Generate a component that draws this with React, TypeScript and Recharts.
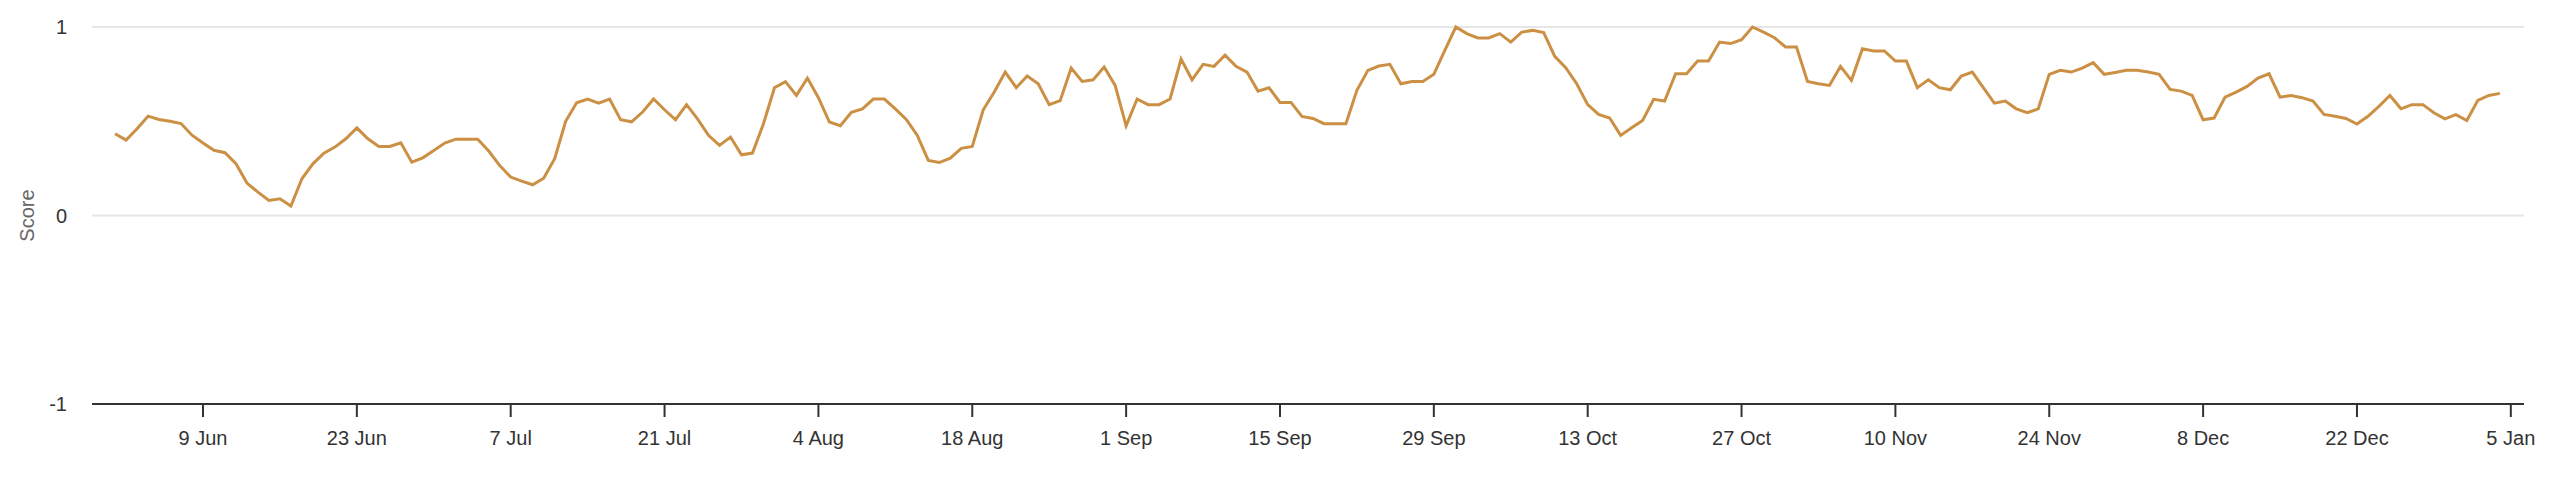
import { LineChart, Line, XAxis, YAxis, CartesianGrid } from "recharts";

// daily scores, day 0 = 1 Jun
const juneScores = [
  0.434, 0.4, 0.46, 0.527, 0.509, 0.5, 0.488, 0.426, 0.385, 0.346, 0.333, 0.275, 0.172, 0.124, 0.08,
  0.089, 0.05, 0.195, 0.274, 0.331, 0.363, 0.407, 0.465, 0.407, 0.366, 0.366, 0.386, 0.283, 0.306, 0.345,
];
const julyScores = [
  0.384, 0.405, 0.405, 0.405, 0.342, 0.265, 0.204, 0.182, 0.163, 0.198, 0.301, 0.5, 0.598, 0.618, 0.596,
  0.618, 0.508, 0.497, 0.549, 0.618, 0.561, 0.508, 0.588, 0.513, 0.425, 0.372, 0.416, 0.322, 0.331, 0.487,
  0.678,
];
const augustScores = [
  0.71, 0.637, 0.729, 0.625, 0.496, 0.476, 0.547, 0.566, 0.618, 0.618, 0.566, 0.51, 0.425, 0.292, 0.281,
  0.304, 0.356, 0.366, 0.561, 0.655, 0.761, 0.678, 0.74, 0.699, 0.588, 0.609, 0.782, 0.711, 0.72, 0.788,
  0.69,
];
const septemberScores = [
  0.476, 0.618, 0.588, 0.588, 0.618, 0.83, 0.72, 0.802, 0.791, 0.851, 0.791, 0.761, 0.66, 0.678, 0.6,
  0.6, 0.526, 0.515, 0.487, 0.487, 0.487, 0.664, 0.77, 0.793, 0.802, 0.699, 0.711, 0.711, 0.749, 0.876,
];
const octoberScores = [
  1.0, 0.965, 0.942, 0.942, 0.965, 0.92, 0.973, 0.982, 0.97, 0.844, 0.784, 0.699, 0.588, 0.536, 0.517,
  0.425, 0.465, 0.504, 0.616, 0.607, 0.752, 0.752, 0.819, 0.819, 0.92, 0.912, 0.933, 1.0, 0.973, 0.943,
  0.894,
];
const novemberScores = [
  0.894, 0.711, 0.699, 0.69, 0.791, 0.717, 0.885, 0.873, 0.873, 0.819, 0.819, 0.678, 0.72, 0.678, 0.667,
  0.74, 0.761, 0.678, 0.596, 0.607, 0.566, 0.545, 0.566, 0.749, 0.77, 0.761, 0.782, 0.811, 0.749, 0.759,
];
const decemberScores = [
  0.77, 0.77, 0.761, 0.749, 0.669, 0.66, 0.637, 0.508, 0.517, 0.628, 0.655, 0.685, 0.729, 0.752, 0.628,
  0.637, 0.625, 0.607, 0.536, 0.526, 0.515, 0.485, 0.526, 0.579, 0.637, 0.566, 0.588, 0.588, 0.545, 0.513,
  0.535,
];
const januaryScores = [0.504, 0.611, 0.637, 0.648];

const tickDays = [8, 22, 36, 50, 64, 78, 92, 106, 120, 134, 148, 162, 176, 190, 204, 218];
const tickLabels = [
  "9 Jun", "23 Jun", "7 Jul", "21 Jul", "4 Aug", "18 Aug", "1 Sep", "15 Sep",
  "29 Sep", "13 Oct", "27 Oct", "10 Nov", "24 Nov", "8 Dec", "22 Dec", "5 Jan",
];
const scoreTicks = [-1, 0, 1];

const data = [
  ...juneScores,
  ...julyScores,
  ...augustScores,
  ...septemberScores,
  ...octoberScores,
  ...novemberScores,
  ...decemberScores,
  ...januaryScores,
].map((score, day) => ({ day, score }));

const LINE_COLOR = "#cb9044";

export default function App() {
  return (
    <div
      style={{
        position: "relative",
        width: 2544,
        height: 470,
        fontFamily: '"Liberation Sans", Arial, sans-serif',
      }}
    >
      <LineChart
        width={2544}
        height={470}
        data={data}
        margin={{ top: 19, right: 28, bottom: 24, left: 0 }}
      >
        <CartesianGrid vertical={false} stroke="#e6e6e6" strokeWidth={2} />
        <XAxis
          dataKey="day"
          type="number"
          domain={[-2.1, 219.2]}
          ticks={tickDays}
          interval={0}
          allowDataOverflow
          tickFormatter={(d) => tickLabels[tickDays.indexOf(d)] ?? ""}
          height={50}
          axisLine={{ stroke: "#333", strokeWidth: 2 }}
          tickLine={{ stroke: "#333", strokeWidth: 2 }}
          tickSize={13}
          tickMargin={14}
          tick={{ fill: "#333", fontSize: 20 }}
        />
        <YAxis
          domain={[-1, 1]}
          ticks={scoreTicks}
          width={84}
          axisLine={false}
          tickLine={false}
          tickSize={0}
          tickMargin={25}
          tick={{ fill: "#333", fontSize: 20 }}
          label={{
            value: "Score",
            angle: -90,
            position: "insideLeft",
            offset: 19,
            style: { textAnchor: "middle", fill: "#666", fontSize: 20 },
          }}
        />
        <Line
          type="linear"
          dataKey="score"
          stroke={LINE_COLOR}
          strokeWidth={3}
          dot={false}
          isAnimationActive={false}
        />
      </LineChart>
      {/* clipped legend marker at the right edge */}
      <div
        style={{
          position: "absolute",
          left: 2547,
          top: 231,
          width: 5,
          height: 3,
          background: LINE_COLOR,
        }}
      />
    </div>
  );
}
